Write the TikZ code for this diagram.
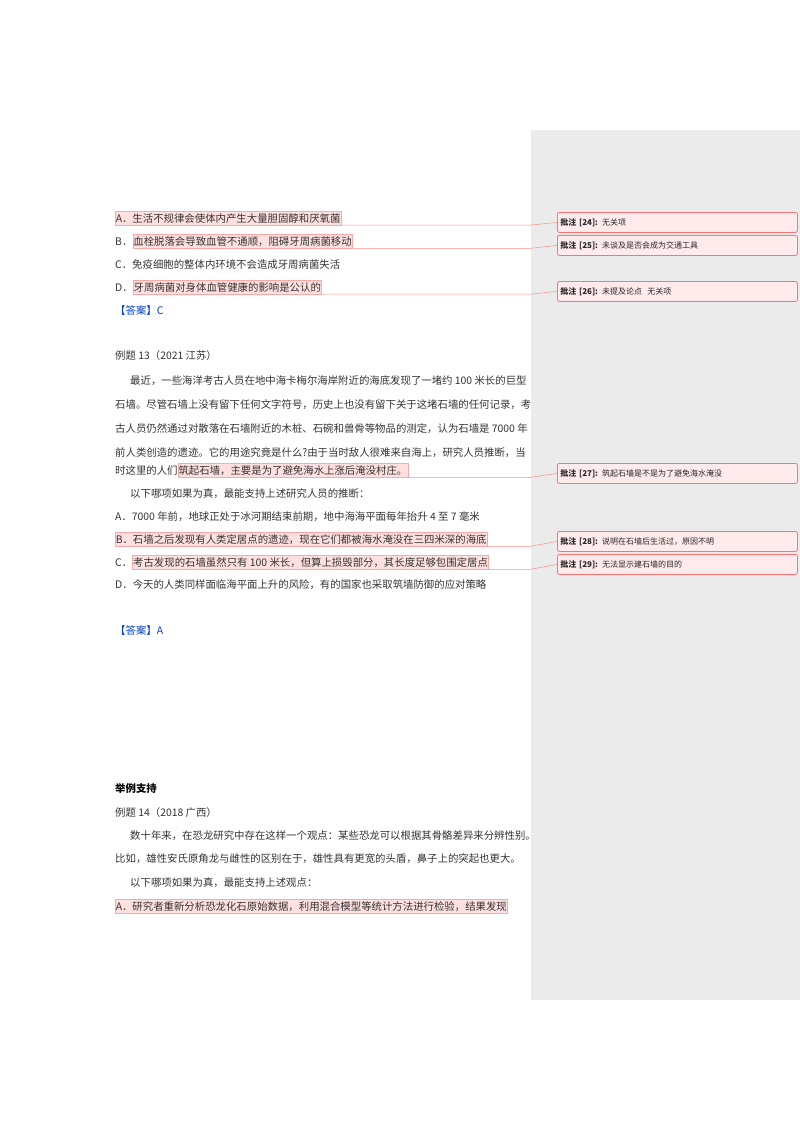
\documentclass[tikz,border=0pt]{standalone}
\usepackage{fontspec}
\newfontfamily\cjk{Noto Sans CJK SC}
\begin{document}
\begin{tikzpicture}[x=1pt,y=-1pt,
  t/.style={anchor=base west,inner sep=0pt,font=\cjk\fontsize{10.4}{12}\selectfont,text=black!80},
  hl/.style={t,fill=red!12,draw=red!35,line width=0.5pt,inner ysep=2pt,inner xsep=0.5pt},
  cmt/.style={draw=red!55,fill=red!8,rounded corners=2pt,line width=0.8pt,minimum width=240pt,minimum height=20pt,anchor=north west,inner xsep=3pt,font=\cjk\fontsize{8}{9}\selectfont,text=black!85,text width=234pt,align=left},
  ln/.style={draw=red!45,line width=0.5pt},
  ans/.style={t,text=blue!70!cyan!80!black}]
\useasboundingbox (0,0) rectangle (800,1132);
\fill[black!8] (531,130) rectangle (800,1000);
\coordinate (kx) at (530,0);
% first block
\node[hl] (hA) at (115,222) {A．生活不规律会使体内产生大量胆固醇和厌氧菌};
\node[t] (lB) at (115,245) {B．}; \node[hl,anchor=base west] (hB) at (lB.base east) {血栓脱落会导致血管不通顺，阻碍牙周病菌移动};
\node[t] at (115,268) {C．免疫细胞的整体内环境不会造成牙周病菌失活};
\node[t] (lD) at (115,291) {D．}; \node[hl] (hD) at (lD.base east) {牙周病菌对身体血管健康的影响是公认的};
\node[ans] at (115,314) {【答案】C};
\node[cmt] (c24) at (557,212) {\textbf{批注 [24]:} 无关项};
\node[cmt] (c25) at (557,235) {\textbf{批注 [25]:} 未谈及是否会成为交通工具};
\node[cmt] (c26) at (557,281) {\textbf{批注 [26]:} 未提及论点\ \ 无关项};
\draw[ln] (hA.south east) -- (hA.south east -| kx) -- (c24.west);
\draw[ln] (hB.south east) -- (hB.south east -| kx) -- (c25.west);
\draw[ln] (hD.south east) -- (hD.south east -| kx) -- (c26.west);
% example 13
\node[t] at (115,359) {例题 13（2021 江苏）};
\node[t] at (130,384) {最近，一些海洋考古人员在地中海卡梅尔海岸附近的海底发现了一堵约 100 米长的巨型};
\node[t] at (115,408) {石墙。尽管石墙上没有留下任何文字符号，历史上也没有留下关于这堵石墙的任何记录，考};
\node[t] at (115,432) {古人员仍然通过对散落在石墙附近的木桩、石碗和兽骨等物品的测定，认为石墙是 7000 年};
\node[t] at (115,456) {前人类创造的遗迹。它的用途究竟是什么?由于当时敌人很难来自海上，研究人员推断，当};
\node[t] (l27) at (115,474) {时这里的人们}; \node[hl] (h27) at (l27.base east) {筑起石墙，主要是为了避免海水上涨后淹没村庄。};
\node[t] at (130,497) {以下哪项如果为真，最能支持上述研究人员的推断：};
\node[t] at (115,520) {A．7000 年前，地球正处于冰河期结束前期，地中海海平面每年抬升 4 至 7 毫米};
\node[hl] (h28) at (115,543) {B．石墙之后发现有人类定居点的遗迹，现在它们都被海水淹没在三四米深的海底};
\node[t] (l29) at (115,566) {C．}; \node[hl] (h29) at (l29.base east) {考古发现的石墙虽然只有 100 米长，但算上损毁部分，其长度足够包围定居点};
\node[t] at (115,588) {D．今天的人类同样面临海平面上升的风险，有的国家也采取筑墙防御的应对策略};
\node[ans] at (115,634) {【答案】A};
\node[cmt] (c27) at (557,463) {\textbf{批注 [27]:} 筑起石墙是不是为了避免海水淹没};
\node[cmt] (c28) at (557,531) {\textbf{批注 [28]:} 说明在石墙后生活过，原因不明};
\node[cmt] (c29) at (557,554) {\textbf{批注 [29]:} 无法显示建石墙的目的};
\draw[ln] (h27.south east) -- (h27.south east -| kx) -- (c27.west);
\draw[ln] (h28.south east) -- (h28.south east -| kx) -- (c28.west);
\draw[ln] (h29.south east) -- (h29.south east -| kx) -- (c29.west);
% example 14
\node[t,font=\cjk\bfseries\fontsize{10.4}{12}\selectfont,text=black] at (115,792) {举例支持};
\node[t] at (115,816) {例题 14（2018 广西）};
\node[t] at (130,839) {数十年来，在恐龙研究中存在这样一个观点：某些恐龙可以根据其骨骼差异来分辨性别。};
\node[t] at (115,862) {比如，雄性安氏原角龙与雌性的区别在于，雄性具有更宽的头盾，鼻子上的突起也更大。};
\node[t] at (130,886) {以下哪项如果为真，最能支持上述观点：};
\node[hl] (hE) at (115,910) {A．研究者重新分析恐龙化石原始数据，利用混合模型等统计方法进行检验，结果发现};
\end{tikzpicture}
\end{document}
